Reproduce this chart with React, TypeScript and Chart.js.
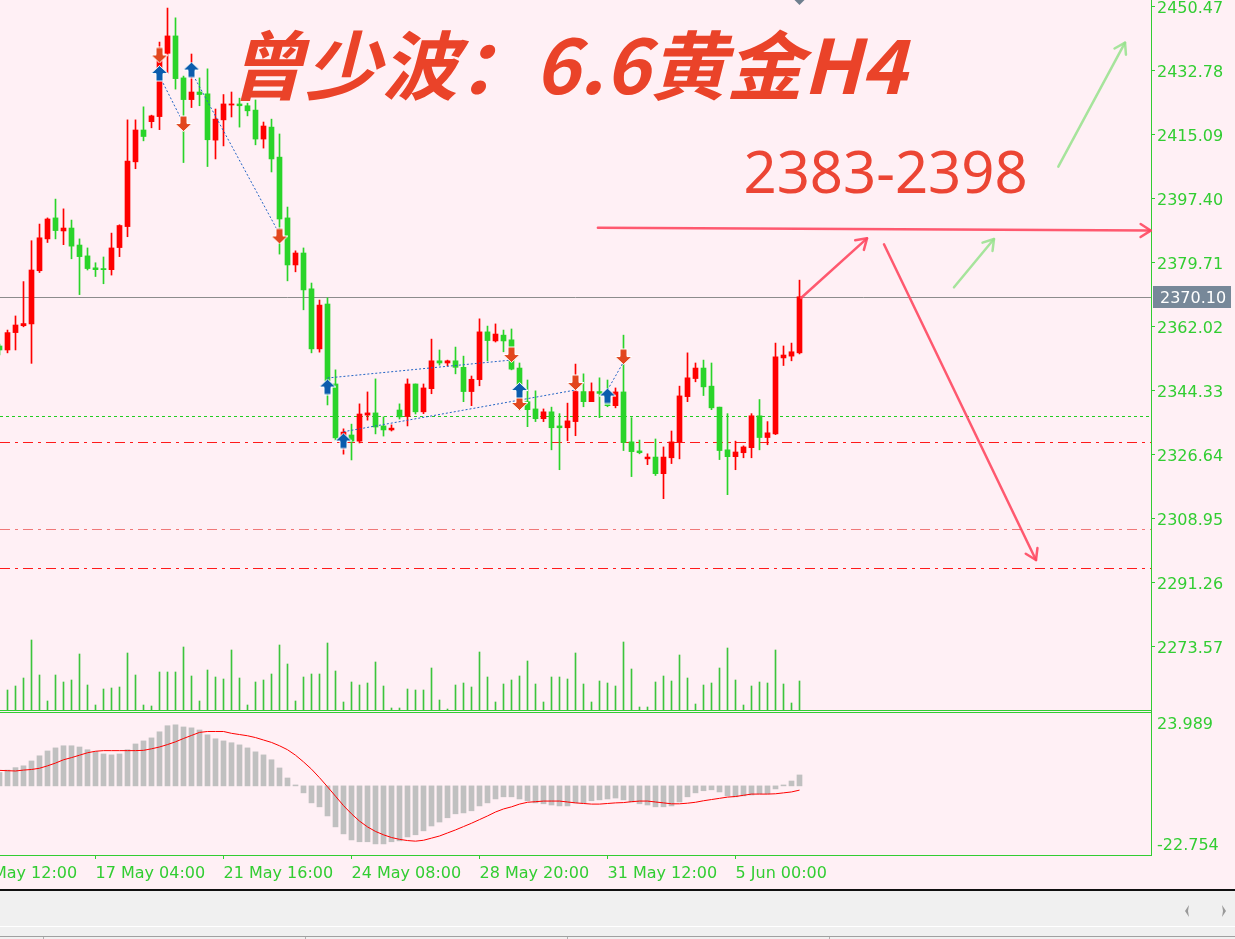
import { useEffect, useRef } from "react";
import { Chart, registerables } from "chart.js";

Chart.register(...registerables);

// XAUUSD H4 — bars are indexed from firstBar (the first one sits partly off the left edge)
const firstBar = -1;

const opens = [
  2356.5, 2355.4, 2360.2, 2362.1, 2362.6, 2377.3, 2386.1, 2391.9, 2388.3, 2389.1,
  2384.4, 2381.4, 2378.1, 2377.9, 2377.6, 2383.7, 2389.5, 2407.4, 2416.2, 2418.5,
  2419.9, 2437.4, 2442.2, 2430.6, 2424.6, 2426.7, 2426.2, 2413.4, 2419.0, 2423.1,
  2423.4, 2422.9, 2421.7, 2413.7, 2417.0, 2408.7, 2391.9, 2378.9, 2382.2, 2372.3,
  2355.7, 2368.1, 2346.0, 2331.6, 2331.9, 2330.2, 2337.4, 2338.0, 2334.4, 2333.3,
  2338.8, 2337.0, 2346.0, 2338.3, 2344.7, 2352.4, 2351.8, 2352.4, 2350.6, 2343.9,
  2347.2, 2360.4, 2357.9, 2359.5, 2358.2, 2350.4, 2341.1, 2339.1, 2336.4, 2338.3,
  2334.4, 2333.9, 2335.6, 2343.9, 2341.1, 2343.9, 2340.8, 2340.0, 2343.8, 2330.0,
  2327.5, 2325.3, 2325.8, 2321.2, 2325.6, 2329.8, 2342.5, 2347.5, 2350.4, 2345.4,
  2339.6, 2327.8, 2325.9, 2327.0, 2328.4, 2337.2, 2331.2, 2332.2, 2353.2, 2353.7, 2354.6,
];
const highs = [
  2357.0, 2360.9, 2364.8, 2374.3, 2385.6, 2390.2, 2391.9, 2397.1, 2394.4, 2391.3,
  2386.1, 2383.6, 2379.5, 2381.1, 2387.7, 2390.0, 2419.0, 2419.0, 2422.6, 2420.3,
  2440.5, 2449.9, 2447.2, 2431.1, 2437.2, 2430.6, 2433.1, 2422.0, 2426.0, 2426.7,
  2425.0, 2423.6, 2424.5, 2418.4, 2419.2, 2415.1, 2394.9, 2382.8, 2383.6, 2373.9,
  2369.2, 2369.8, 2349.9, 2333.6, 2334.9, 2340.5, 2343.8, 2347.4, 2336.9, 2334.7,
  2340.5, 2347.4, 2346.0, 2346.0, 2358.4, 2355.4, 2352.6, 2356.2, 2353.7, 2348.2,
  2364.0, 2362.0, 2362.6, 2360.9, 2361.2, 2351.8, 2347.1, 2344.1, 2339.1, 2339.6,
  2337.8, 2340.7, 2351.5, 2348.8, 2346.3, 2347.7, 2347.1, 2344.9, 2359.5, 2336.7,
  2330.5, 2326.7, 2330.8, 2328.6, 2333.0, 2345.4, 2354.6, 2351.8, 2352.6, 2351.8,
  2339.6, 2337.8, 2330.2, 2328.9, 2337.8, 2341.7, 2335.6, 2357.3, 2356.5, 2357.3, 2374.7,
];
const lows = [
  2354.0, 2354.6, 2355.4, 2361.8, 2351.7, 2376.8, 2385.1, 2386.1, 2384.5, 2380.6,
  2370.7, 2377.5, 2375.7, 2373.7, 2376.1, 2381.2, 2386.7, 2405.5, 2413.2, 2416.8,
  2416.3, 2431.9, 2427.5, 2407.2, 2422.4, 2422.9, 2406.1, 2408.2, 2411.8, 2419.8,
  2417.0, 2420.1, 2412.1, 2411.2, 2404.6, 2381.9, 2374.5, 2377.0, 2366.5, 2354.6,
  2354.8, 2340.2, 2330.5, 2326.6, 2325.0, 2329.7, 2336.0, 2332.2, 2331.6, 2333.0,
  2336.3, 2334.4, 2337.7, 2337.8, 2343.3, 2351.2, 2351.0, 2348.8, 2341.1, 2340.0,
  2345.5, 2352.4, 2357.6, 2354.9, 2349.9, 2338.8, 2334.2, 2335.6, 2335.6, 2327.8,
  2322.3, 2330.3, 2331.7, 2339.7, 2341.1, 2336.7, 2339.7, 2339.4, 2327.6, 2320.4,
  2326.7, 2323.7, 2320.7, 2314.3, 2324.0, 2325.3, 2341.1, 2346.6, 2342.8, 2338.9,
  2325.1, 2315.4, 2322.3, 2325.6, 2325.6, 2327.8, 2329.2, 2332.0, 2351.1, 2352.4, 2354.3,
];
const closes = [
  2355.4, 2360.2, 2362.3, 2362.7, 2377.5, 2386.4, 2391.6, 2388.4, 2389.1, 2384.1,
  2381.2, 2377.9, 2377.6, 2377.6, 2383.6, 2389.8, 2407.6, 2416.2, 2414.4, 2420.1,
  2436.9, 2442.2, 2430.4, 2424.6, 2426.7, 2426.0, 2413.5, 2419.2, 2423.4, 2423.4,
  2422.9, 2421.5, 2413.7, 2417.3, 2408.2, 2391.6, 2378.9, 2382.2, 2372.0, 2355.7,
  2367.8, 2346.8, 2331.1, 2332.7, 2330.2, 2337.7, 2338.0, 2334.1, 2333.3, 2333.8,
  2336.9, 2346.0, 2338.3, 2344.9, 2352.4, 2351.8, 2352.4, 2350.6, 2343.9, 2347.3,
  2360.4, 2358.0, 2359.8, 2357.9, 2350.1, 2341.6, 2338.9, 2336.4, 2338.3, 2333.9,
  2333.9, 2335.8, 2343.9, 2341.1, 2343.9, 2343.4, 2340.0, 2343.8, 2329.8, 2327.3,
  2327.0, 2325.8, 2321.2, 2325.8, 2330.0, 2342.7, 2347.7, 2350.4, 2345.2, 2339.4,
  2327.6, 2325.9, 2327.2, 2328.6, 2337.2, 2331.2, 2332.5, 2353.5, 2354.0, 2354.9, 2370.1,
];
// tick volume per bar
const volumes = [
  null, 2100, 2500, 3300, 7100, 3600, 1000, 3600, 2900, 3100,
  5700, 2600, 600, 2200, 2300, 2400, 5800, 3600, 600, 500,
  3900, 3900, 3900, 6400, 3500, 1000, 4100, 3400, 3200, 6100,
  3300, 600, 2900, 3100, 3700, 6600, 4700, 1000, 3400, 3700,
  3700, 6800, 4000, 900, 2900, 2600, 2800, 4900, 2500, 300,
  300, 2200, 2100, 2100, 4300, 1100, 200, 2600, 2800, 2400,
  5900, 3400, 900, 2700, 3100, 3500, 5000, 2700, 900, 3400,
  3400, 3200, 5800, 2700, 900, 3000, 2800, 2500, 6900, 4200,
  400, 400, 2900, 3500, 3000, 5600, 3300, 700, 2600, 2800,
  4300, 6300, 3100, 600, 2500, 2900, 2800, 6100, 2700, 800, 3000,
];
const macdMain = [
  4.4, 5.2, 6.0, 6.6, 8.2, 9.9, 11.5, 12.5, 13.2, 13.2,
  12.8, 11.9, 11.3, 10.5, 10.2, 10.5, 11.9, 13.8, 14.8, 15.8,
  17.8, 19.8, 20.1, 19.4, 19.1, 18.4, 16.8, 15.5, 14.8, 14.2,
  13.5, 12.5, 11.2, 10.2, 8.6, 5.9, 2.6, 0.3, -2.3, -5.6,
  -6.9, -9.9, -13.5, -15.8, -17.8, -18.4, -18.4, -19.1, -19.1, -18.4,
  -18.1, -16.8, -16.1, -14.8, -13.2, -11.9, -10.5, -9.2, -8.9, -8.2,
  -6.6, -5.6, -4.3, -3.6, -3.6, -4.3, -4.9, -5.6, -5.9, -6.3,
  -6.6, -6.6, -5.6, -5.6, -4.9, -4.6, -4.3, -4.0, -4.6, -5.3,
  -5.9, -6.3, -6.9, -6.9, -6.6, -5.3, -3.6, -2.3, -1.6, -1.3,
  -2.0, -3.3, -3.6, -3.3, -3.0, -2.6, -2.6, -1.0, 0.3, 1.6, 3.6,
];
const macdSignal = [
  5.1, 5.0, 4.9, 5.2, 5.4, 5.8, 6.6, 7.5, 8.6, 9.3,
  10.1, 10.9, 11.4, 11.6, 11.6, 11.6, 11.6, 11.6, 11.7, 12.2,
  12.8, 13.6, 14.5, 15.6, 16.6, 17.6, 17.9, 17.9, 17.9, 17.3,
  16.9, 16.5, 15.9, 15.1, 14.3, 13.2, 11.9, 10.1, 7.9, 5.5,
  2.7, -0.3, -3.4, -6.5, -9.2, -11.6, -13.5, -15.0, -16.1, -17.0,
  -17.6, -18.0, -18.2, -17.9, -17.2, -16.5, -15.5, -14.5, -13.4, -12.3,
  -11.1, -9.9, -8.6, -7.6, -6.9, -6.0, -5.4, -5.2, -5.0, -5.0,
  -5.0, -5.3, -5.6, -5.8, -6.0, -6.0, -5.8, -5.6, -5.5, -5.2,
  -5.0, -5.0, -5.3, -5.6, -5.9, -5.9, -5.7, -5.4, -4.9, -4.5,
  -4.1, -3.7, -3.5, -3.1, -2.7, -2.7, -2.7, -2.6, -2.3, -2.0, -1.4,
];

// time axis
const timeTickBars = [-5, 11, 27, 43, 59, 75, 91];
const timeTickLabels = ["14 May 12:00", "17 May 04:00", "21 May 16:00", "24 May 08:00", "28 May 20:00", "31 May 12:00", "5 Jun 00:00"];

// price axis
const priceTicks = [2450.47, 2432.78, 2415.09, 2397.4, 2379.71, 2362.02, 2344.33, 2326.64, 2308.95, 2291.26, 2273.57];
const priceTop = 2452.13;
const priceBottom = 2255.61;
const lastPrice = 2370.1;

// MACD window extents
const macdTop = 23.989;
const macdBottom = -22.754;

// horizontal levels
const levelPrices = [2337.15, 2330.0, 2305.9, 2295.1];

// trade markers
const buyBars = [19, 23, 40, 42, 64, 75];
const buyPrices = [2431.81, 2432.78, 2345.16, 2330.23, 2344.19, 2342.67];
const sellBars = [19, 22, 34, 63, 64, 71, 77];
const sellPrices = [2436.93, 2417.99, 2386.9, 2354.14, 2340.88, 2346.4, 2353.59];
const tradeOpenBars = [19, 23, 40, 42, 75];
const tradeOpenPrices = [2431.12, 2432.23, 2347.65, 2332.8, 2344.33];
const tradeCloseBars = [22, 34, 63, 71, 77];
const tradeClosePrices = [2417.99, 2387.45, 2352.62, 2344.33, 2352.07];

// hand-drawn forecast arrows (bar position, price)
const sketchFromBars = [73.8, 99.19, 109.56, 118.31, 131.35];
const sketchFromPrices = [2389.2, 2369.76, 2384.6, 2372.72, 2406.05];
const sketchToBars = [142.9, 107.44, 128.56, 123.31, 139.69];
const sketchToPrices = [2388.4, 2386.26, 2297.34, 2386.07, 2440.33];
const sketchTones = ["red", "red", "red", "green", "green"];

const targetText = "2383-2398";
const targetBar = 92.0;
const targetPrice = 2398.78;
const titleText = "曾少波：6.6黄金H4";

const xMin = -0.9375;
const xMax = 142.9375;

const CHROME = "#32cd32";
const UP = "#ff0000";
const DOWN = "#2ad42a";
const AXIS_FONT = { family: '"DejaVu Sans", sans-serif', size: 16 };

const barX = (i: number) => i + firstBar;

function makeTradeArrow(up: boolean, fill: string): HTMLCanvasElement {
  const c = document.createElement("canvas");
  c.width = 19;
  c.height = 17;
  const g = c.getContext("2d")!;
  g.beginPath();
  if (up) {
    g.moveTo(9.5, 0.5);
    g.lineTo(18, 8.5);
    g.lineTo(13, 8.5);
    g.lineTo(13, 16);
    g.lineTo(6, 16);
    g.lineTo(6, 8.5);
    g.lineTo(1, 8.5);
  } else {
    g.moveTo(9.5, 16.5);
    g.lineTo(18, 8.5);
    g.lineTo(13, 8.5);
    g.lineTo(13, 1);
    g.lineTo(6, 1);
    g.lineTo(6, 8.5);
    g.lineTo(1, 8.5);
  }
  g.closePath();
  g.fillStyle = fill;
  g.fill();
  g.strokeStyle = "#ffffff";
  g.lineWidth = 1;
  g.stroke();
  return c;
}

function arrowLine(ctx: CanvasRenderingContext2D, x0: number, y0: number, x1: number, y1: number) {
  ctx.beginPath();
  ctx.moveTo(x0, y0);
  ctx.lineTo(x1, y1);
  ctx.stroke();
  const ang = Math.atan2(y1 - y0, x1 - x0);
  const len = 12;
  const spread = Math.PI / 5.5;
  ctx.beginPath();
  ctx.moveTo(x1 - len * Math.cos(ang - spread), y1 - len * Math.sin(ang - spread));
  ctx.lineTo(x1, y1);
  ctx.lineTo(x1 - len * Math.cos(ang + spread), y1 - len * Math.sin(ang + spread));
  ctx.stroke();
}

const mainDecor = {
  id: "mainDecor",
  beforeDatasetsDraw(chart: any) {
    const { ctx, chartArea } = chart;
    const y = chart.scales.y;
    ctx.save();
    ctx.beginPath();
    ctx.rect(chartArea.left, chartArea.top, chartArea.right - chartArea.left, chartArea.bottom - chartArea.top);
    ctx.clip();
    const styles = [
      { color: "#22cc22", dash: [3, 3] },
      { color: "#ff1a1a", dash: [10, 5, 3, 5] },
      { color: "#f07878", dash: [10, 5, 3, 5] },
      { color: "#ff1a1a", dash: [10, 5, 3, 5] },
    ];
    levelPrices.forEach((p, i) => {
      const py = Math.round(y.getPixelForValue(p)) + 0.5;
      ctx.strokeStyle = styles[i].color;
      ctx.setLineDash(styles[i].dash);
      ctx.lineWidth = 1;
      ctx.beginPath();
      ctx.moveTo(chartArea.left, py);
      ctx.lineTo(chartArea.right, py);
      ctx.stroke();
    });
    ctx.setLineDash([]);
    const ly = Math.round(y.getPixelForValue(lastPrice)) + 0.5;
    ctx.strokeStyle = "#8c8c8c";
    ctx.beginPath();
    ctx.moveTo(chartArea.left, ly);
    ctx.lineTo(chartArea.right, ly);
    ctx.stroke();
    ctx.restore();
  },
  afterDatasetsDraw(chart: any) {
    const { ctx } = chart;
    const x = chart.scales.x;
    const y = chart.scales.y;
    ctx.save();
    ctx.lineWidth = 2.5;
    ctx.lineCap = "round";
    ctx.lineJoin = "round";
    sketchFromBars.forEach((b, i) => {
      ctx.strokeStyle = sketchTones[i] === "red" ? "rgba(255,72,96,0.9)" : "rgba(150,226,140,0.85)";
      arrowLine(
        ctx,
        x.getPixelForValue(b),
        y.getPixelForValue(sketchFromPrices[i]),
        x.getPixelForValue(sketchToBars[i]),
        y.getPixelForValue(sketchToPrices[i])
      );
    });
    ctx.fillStyle = "#ec4534";
    ctx.font = '58px "Noto Sans", sans-serif';
    ctx.textBaseline = "alphabetic";
    ctx.fillText(targetText, x.getPixelForValue(targetBar), y.getPixelForValue(targetPrice));
    ctx.restore();
  },
  afterDraw(chart: any) {
    const { ctx, chartArea } = chart;
    const x = chart.scales.x;
    const y = chart.scales.y;
    ctx.save();
    // title
    ctx.font = 'italic bold 75px "Noto Sans CJK SC", sans-serif';
    ctx.fillStyle = "#ea4329";
    ctx.textBaseline = "alphabetic";
    const w = ctx.measureText(titleText).width;
    ctx.translate(228, 94);
    ctx.scale(678 / w, 1);
    ctx.fillText(titleText, 0, 0);
    ctx.restore();

    ctx.save();
    // panel border under the price window
    ctx.strokeStyle = CHROME;
    ctx.lineWidth = 1;
    ctx.beginPath();
    ctx.moveTo(0, chartArea.bottom - 0.5);
    ctx.lineTo(chartArea.right + 1, chartArea.bottom - 0.5);
    ctx.stroke();
    // last price tag
    const py = y.getPixelForValue(lastPrice);
    ctx.fillStyle = "#778899";
    ctx.fillRect(chartArea.right + 2, Math.round(py) - 11, 78, 22);
    ctx.fillStyle = "#ffffff";
    ctx.font = '16px "DejaVu Sans", sans-serif';
    ctx.textBaseline = "middle";
    ctx.fillText(lastPrice.toFixed(2), chartArea.right + 9, Math.round(py) + 1.5);
    // chart shift marker
    const sx = x.getPixelForValue(barX(opens.length - 1));
    ctx.fillStyle = "#6f7f8f";
    ctx.beginPath();
    ctx.moveTo(sx - 7, -2);
    ctx.lineTo(sx + 7, -2);
    ctx.lineTo(sx, 5);
    ctx.closePath();
    ctx.fill();
    ctx.restore();
  },
};

const macdDecor = {
  id: "macdDecor",
  afterDraw(chart: any) {
    const { ctx, chartArea } = chart;
    ctx.save();
    ctx.strokeStyle = CHROME;
    ctx.lineWidth = 1;
    ctx.beginPath();
    ctx.moveTo(0, chartArea.top - 0.5);
    ctx.lineTo(chartArea.right + 1, chartArea.top - 0.5);
    ctx.moveTo(chartArea.right + 0.5, 0);
    ctx.lineTo(chartArea.right + 0.5, chartArea.top);
    ctx.stroke();
    ctx.fillStyle = CHROME;
    ctx.font = '16px "DejaVu Sans", sans-serif';
    ctx.textBaseline = "middle";
    const y = chart.scales.y;
    ctx.fillText(macdTop.toFixed(3), chartArea.right + 6, y.getPixelForValue(macdTop) + 12);
    ctx.fillText(macdBottom.toFixed(3), chartArea.right + 6, y.getPixelForValue(macdBottom) - 9);
    ctx.restore();
  },
};

export default function App() {
  const mainRef = useRef<HTMLCanvasElement>(null);
  const macdRef = useRef<HTMLCanvasElement>(null);

  useEffect(() => {
    const upImg = makeTradeArrow(true, "#0b5cad");
    const downImg = makeTradeArrow(false, "#e2471f");
    const candleColors = closes.map((c, i) => (c >= opens[i] ? UP : DOWN));

    const tradeSets = tradeOpenBars.map((b, i) => ({
      type: "line" as const,
      data: [
        { x: b, y: tradeOpenPrices[i] },
        { x: tradeCloseBars[i], y: tradeClosePrices[i] },
      ],
      borderColor: "#2264c4",
      borderWidth: 1,
      borderDash: [2, 2],
      pointRadius: 0,
      yAxisID: "y",
      order: 1,
    }));

    const main = new Chart(mainRef.current!, {
      type: "bar",
      data: {
        datasets: [
          ...tradeSets,
          {
            type: "scatter",
            data: buyBars.map((b, i) => ({ x: b, y: buyPrices[i] })),
            pointStyle: upImg,
            pointRadius: 8,
            yAxisID: "y",
            order: 0,
          } as any,
          {
            type: "scatter",
            data: sellBars.map((b, i) => ({ x: b, y: sellPrices[i] })),
            pointStyle: downImg,
            pointRadius: 8,
            yAxisID: "y",
            order: 0,
          } as any,
          {
            type: "bar",
            data: opens.map((o, i) => ({ x: barX(i), y: [o, closes[i]] })),
            backgroundColor: candleColors,
            barThickness: 5,
            minBarLength: 1,
            grouped: false,
            borderWidth: 0,
            yAxisID: "y",
            order: 2,
          } as any,
          {
            type: "bar",
            data: highs.map((h, i) => ({ x: barX(i), y: [lows[i], h] })),
            backgroundColor: candleColors,
            barThickness: 1,
            grouped: false,
            borderWidth: 0,
            yAxisID: "y",
            order: 3,
          } as any,
          {
            type: "bar",
            data: volumes.map((v, i) => ({ x: barX(i), y: v })),
            backgroundColor: "#3dc43d",
            barThickness: 1,
            grouped: false,
            borderWidth: 0,
            yAxisID: "yv",
            order: 4,
          } as any,
        ],
      },
      options: {
        responsive: false,
        animation: false,
        devicePixelRatio: 1,
        events: [],
        layout: { padding: 0, autoPadding: false },
        plugins: { legend: { display: false }, tooltip: { enabled: false } },
        scales: {
          x: {
            type: "linear",
            min: xMin,
            max: xMax,
            offset: false,
            bounds: "data",
            display: false,
            grid: { offset: false },
          },
          y: {
            type: "linear",
            position: "right",
            min: priceBottom,
            max: priceTop,
            bounds: "data",
            afterBuildTicks: (s: any) => {
              s.ticks = priceTicks.map((v) => ({ value: v }));
            },
            afterFit: (s: any) => {
              s.width = 84;
              s.paddingTop = 0;
              s.paddingBottom = 0;
            },
            ticks: {
              autoSkip: false,
              color: CHROME,
              font: AXIS_FONT,
              padding: 2,
              labelOffset: 3,
              callback: (v: any) => Number(v).toFixed(2),
            },
            grid: { drawOnChartArea: false, tickLength: 4, color: CHROME },
            border: { color: CHROME, width: 1 },
          },
          yv: { type: "linear", display: false, min: 0, max: 71100 },
        },
      } as any,
      plugins: [mainDecor],
    });

    const macd = new Chart(macdRef.current!, {
      type: "bar",
      data: {
        datasets: [
          {
            type: "line",
            data: macdSignal.map((v, i) => ({ x: barX(i), y: v })),
            borderColor: "#ff0000",
            borderWidth: 1,
            pointRadius: 0,
            tension: 0,
            order: 0,
          } as any,
          {
            type: "bar",
            data: macdMain.map((v, i) => ({ x: barX(i), y: v })),
            backgroundColor: "#c0c0c0",
            barThickness: 5,
            grouped: false,
            borderWidth: 0,
            order: 1,
          } as any,
        ],
      },
      options: {
        responsive: false,
        animation: false,
        devicePixelRatio: 1,
        events: [],
        layout: { padding: { top: 2, left: 0, right: 0, bottom: 0 }, autoPadding: false },
        plugins: { legend: { display: false }, tooltip: { enabled: false } },
        scales: {
          x: {
            type: "linear",
            min: xMin,
            max: xMax,
            offset: false,
            bounds: "data",
            position: "bottom",
            afterBuildTicks: (s: any) => {
              s.ticks = timeTickBars.map((v) => ({ value: v }));
            },
            afterFit: (s: any) => {
              s.height = 34;
              s.paddingLeft = 0;
              s.paddingRight = 0;
            },
            ticks: {
              autoSkip: false,
              maxRotation: 0,
              minRotation: 0,
              align: "start",
              padding: 5,
              color: CHROME,
              font: AXIS_FONT,
              callback: (v: any) => {
                const k = timeTickBars.indexOf(Number(v));
                return k >= 0 ? timeTickLabels[k] : "";
              },
            },
            grid: { drawOnChartArea: false, tickLength: 4, color: CHROME, offset: false },
            border: { color: CHROME, width: 1 },
          },
          y: {
            type: "linear",
            position: "right",
            min: macdBottom,
            max: macdTop,
            bounds: "data",
            afterBuildTicks: (s: any) => {
              s.ticks = [];
            },
            afterFit: (s: any) => {
              s.width = 84;
              s.paddingTop = 0;
              s.paddingBottom = 0;
            },
            ticks: { display: false },
            grid: { display: false },
            border: { color: CHROME, width: 1 },
          },
        },
      } as any,
      plugins: [macdDecor],
    });

    return () => {
      main.destroy();
      macd.destroy();
    };
  }, []);

  return (
    <div
      style={{
        position: "absolute",
        left: 0,
        top: 0,
        width: 1235,
        height: 939,
        background: "#f0f0f0",
        overflow: "hidden",
      }}
    >
      <div style={{ position: "absolute", left: 0, top: 0, width: 1235, height: 889, background: "#fff0f5" }} />
      <canvas ref={mainRef} width={1235} height={711} style={{ position: "absolute", left: 0, top: 0 }} />
      <canvas ref={macdRef} width={1235} height={178} style={{ position: "absolute", left: 0, top: 711 }} />
      <div style={{ position: "absolute", left: 0, top: 889, width: 1235, height: 2, background: "#101010" }} />
      <div style={{ position: "absolute", left: 0, top: 926, width: 1235, height: 1, background: "#ffffff" }} />
      <div style={{ position: "absolute", left: 0, top: 936, width: 1235, height: 1, background: "#a0a0a0" }} />
      {[43, 305, 567, 829].map((sx) => (
        <div key={sx} style={{ position: "absolute", left: sx, top: 937, width: 1, height: 2, background: "#b0b0b0" }} />
      ))}
      <svg style={{ position: "absolute", left: 1180, top: 903 }} width={55} height={16}>
        <polygon points="9,2 5,8 9,14 8,8" fill="#9a9a9a" />
        <polygon points="42,2 46,8 42,14 43,8" fill="#9a9a9a" />
      </svg>
    </div>
  );
}
